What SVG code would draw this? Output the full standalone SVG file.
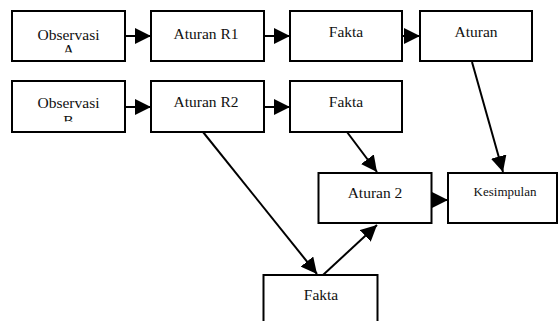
<svg xmlns="http://www.w3.org/2000/svg" width="558" height="321" viewBox="0 0 558 321">
<style>
.box{fill:#fff;stroke:#000;stroke-width:2}
text{font-family:'Liberation Serif','DejaVu Serif',serif;font-size:15.5px;fill:#111;text-anchor:middle}
.s{font-size:13px}
.c{stroke:#000;stroke-width:2;fill:none;marker-end:url(#ah)}
</style>
<defs>
<marker id="ah" viewBox="0 0 16 16" refX="16" refY="8" markerWidth="16" markerHeight="16" markerUnits="userSpaceOnUse" orient="auto">
<path d="M0,0 L16,8 L0,16 Z" fill="#000"/>
</marker>
<clipPath id="clipA"><rect x="0" y="0" width="558" height="52.5"/></clipPath>
<clipPath id="clipB"><rect x="0" y="81" width="558" height="40.5"/></clipPath>
</defs>
<rect width="558" height="321" fill="#fff"/>
<g id="connectors">
<line class="c" x1="125" y1="36" x2="151" y2="36"/>
<line class="c" x1="264" y1="36" x2="290" y2="36"/>
<line class="c" x1="402" y1="36" x2="420" y2="36"/>
<line class="c" x1="125" y1="107" x2="151" y2="107"/>
<line class="c" x1="264" y1="107" x2="290" y2="107"/>
<line class="c" x1="203" y1="132" x2="317" y2="274"/>
<line class="c" x1="323" y1="275" x2="377" y2="225"/>
<line class="c" x1="347" y1="132" x2="377" y2="172"/>
<line class="c" x1="472" y1="62" x2="503" y2="172"/>
<line class="c" x1="431.5" y1="200" x2="448" y2="200"/>
</g>
<g id="obsA">
<rect class="box" x="12" y="11" width="113" height="50"/>
<text x="68.5" y="39.5">Observasi</text>
<text x="68.5" y="54.5" clip-path="url(#clipA)">A</text>
</g>
<g id="aturanR1">
<rect class="box" x="151" y="11" width="113" height="50"/>
<text x="206" y="39">Aturan R1</text>
</g>
<g id="fakta1">
<rect class="box" x="290" y="11" width="112" height="50"/>
<text x="346" y="37">Fakta</text>
</g>
<g id="aturan">
<rect class="box" x="420" y="11" width="112" height="50"/>
<text x="476" y="37">Aturan</text>
</g>
<g id="obsB">
<rect class="box" x="12" y="81" width="113" height="51"/>
<text x="68.5" y="107.5">Observasi</text>
<text x="68.5" y="126" clip-path="url(#clipB)">B</text>
</g>
<g id="aturanR2">
<rect class="box" x="151" y="81" width="113" height="51"/>
<text x="206" y="107">Aturan R2</text>
</g>
<g id="fakta2">
<rect class="box" x="290" y="81" width="112" height="51"/>
<text x="346" y="107">Fakta</text>
</g>
<g id="aturan2">
<rect class="box" x="318.5" y="173" width="113" height="50"/>
<text x="375" y="198">Aturan 2</text>
</g>
<g id="kesimpulan">
<rect class="box" x="448" y="173" width="109" height="50"/>
<text class="s" x="505" y="196">Kesimpulan</text>
</g>
<g id="fakta3">
<rect class="box" x="263.5" y="275" width="114" height="60"/>
<text x="321" y="300">Fakta</text>
</g>
</svg>
